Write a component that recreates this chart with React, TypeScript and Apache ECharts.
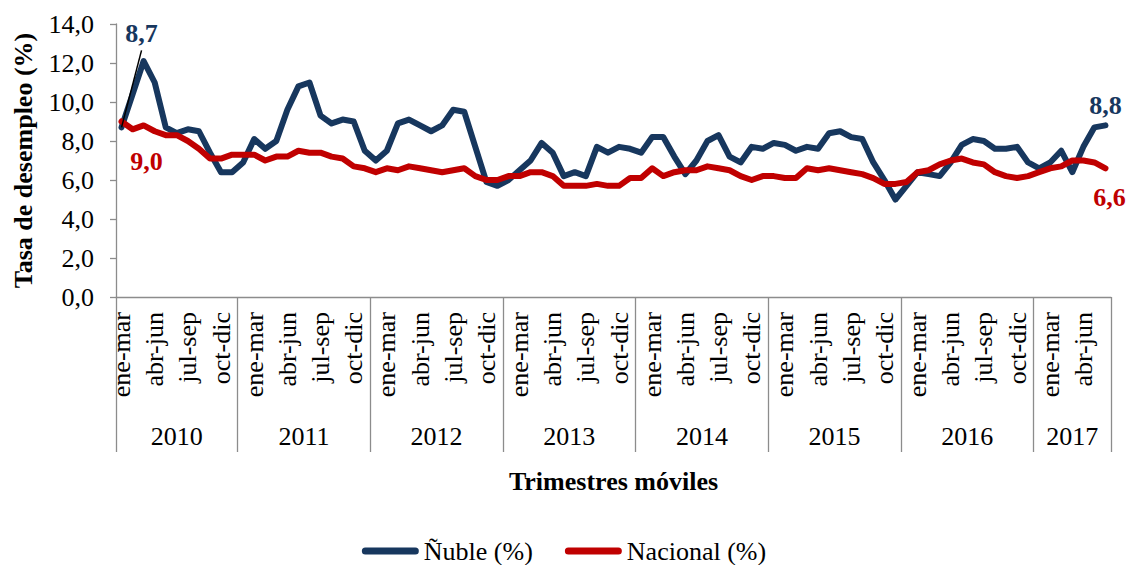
import React, { useEffect, useRef } from 'react';
import * as echarts from 'echarts';

const monthNames = ['dic-feb', 'ene-mar', 'feb-abr', 'mar-may', 'abr-jun', 'may-jul', 'jun-ago', 'jul-sep', 'ago-oct', 'sep-nov', 'oct-dic', 'nov-ene'];
const years = ['2010', '2011', '2012', '2013', '2014', '2015', '2016', '2017'];
const firstMonth = [1, 0, 0, 0, 0, 0, 0, 0];
const lastMonth = [11, 11, 11, 11, 11, 11, 11, 6];
const shownMonthLabels = ['ene-mar', 'abr-jun', 'jul-sep', 'oct-dic'];

const nuble = [
  8.7, 10.4, 12.1, 11.0, 8.7, 8.4, 8.6, 8.5, 7.4, 6.4, 6.4,
  6.9, 8.1, 7.6, 8.0, 9.6, 10.8, 11.0, 9.3, 8.9, 9.1, 9.0, 7.5,
  7.0, 7.5, 8.9, 9.1, 8.8, 8.5, 8.8, 9.6, 9.5, 7.7, 5.9, 5.7,
  6.0, 6.5, 7.0, 7.9, 7.4, 6.2, 6.4, 6.2, 7.7, 7.4, 7.7, 7.6,
  7.4, 8.2, 8.2, 7.2, 6.3, 7.0, 8.0, 8.3, 7.2, 6.9, 7.7, 7.6,
  7.9, 7.8, 7.5, 7.7, 7.6, 8.4, 8.5, 8.2, 8.1, 6.9, 6.0, 5.0,
  5.7, 6.4, 6.3, 6.2, 6.9, 7.8, 8.1, 8.0, 7.6, 7.6, 7.7, 6.9,
  6.6, 6.9, 7.5, 6.4, 7.7, 8.7, 8.8,
];
const nacional = [
  9.0, 8.6, 8.8, 8.5, 8.3, 8.3, 8.0, 7.6, 7.1, 7.1, 7.3,
  7.3, 7.3, 7.0, 7.2, 7.2, 7.5, 7.4, 7.4, 7.2, 7.1, 6.7, 6.6,
  6.4, 6.6, 6.5, 6.7, 6.6, 6.5, 6.4, 6.5, 6.6, 6.2, 6.0, 6.0,
  6.2, 6.2, 6.4, 6.4, 6.2, 5.7, 5.7, 5.7, 5.8, 5.7, 5.7, 6.1,
  6.1, 6.6, 6.2, 6.4, 6.5, 6.5, 6.7, 6.6, 6.5, 6.2, 6.0, 6.2,
  6.2, 6.1, 6.1, 6.6, 6.5, 6.6, 6.5, 6.4, 6.3, 6.1, 5.8, 5.8,
  5.9, 6.4, 6.5, 6.8, 7.0, 7.1, 6.9, 6.8, 6.4, 6.2, 6.1, 6.2,
  6.4, 6.6, 6.7, 7.0, 7.0, 6.9, 6.6,
];

const FONT = 'Liberation Serif';
const BLUE = '#17375E';
const RED = '#C00000';
const AXIS = '#8C8C8C';

const fmt = (v: number) => v.toFixed(1).replace('.', ',');

export default function App() {
  const ref = useRef<HTMLDivElement>(null);

  useEffect(() => {
    document.body.style.margin = '0';
    if (!ref.current) return;
    const chart = echarts.init(ref.current, null, { renderer: 'svg' });

    const categories: string[] = [];
    const catYear: number[] = [];
    years.forEach((_, yi) => {
      for (let m = firstMonth[yi]; m <= lastMonth[yi]; m++) {
        categories.push(monthNames[m]);
        catYear.push(yi);
      }
    });
    const yearStart: number[] = [];
    const yearEnd: number[] = [];
    catYear.forEach((y, i) => {
      if (i === 0 || catYear[i - 1] !== y) yearStart.push(i);
      if (i === catYear.length - 1 || catYear[i + 1] !== y) yearEnd.push(i);
    });
    const boundarySet = new Set(yearStart);
    const last = nuble.length - 1;

    const labelBase = { show: true, position: 'inside', fontSize: 26, fontWeight: 'bold', fontFamily: FONT };

    const nubleData = nuble.map((v, i) => {
      if (i === 0) {
        return { value: v, symbol: 'circle', symbolSize: 2, label: { ...labelBase, color: BLUE, offset: [20, -94], formatter: (p: any) => fmt(p.value) } };
      }
      if (i === last) {
        return { value: v, symbol: 'circle', symbolSize: 2, label: { ...labelBase, color: BLUE, offset: [0, -20], formatter: (p: any) => fmt(p.value) } };
      }
      return v;
    });
    const nacData = nacional.map((v, i) => {
      if (i === 0) {
        return { value: v, symbol: 'circle', symbolSize: 2, label: { ...labelBase, color: RED, offset: [25, 40], formatter: (p: any) => fmt(p.value) } };
      }
      if (i === last) {
        return { value: v, symbol: 'circle', symbolSize: 2, label: { ...labelBase, color: RED, offset: [4, 29], formatter: (p: any) => fmt(p.value) } };
      }
      return v;
    });

    const legendIcon = 'path://M3.5,0L53.5,0A3.5,3.5,0,0,1,53.5,7L3.5,7A3.5,3.5,0,0,1,3.5,0Z';

    chart.setOption({
      animation: false,
      textStyle: { fontFamily: FONT },
      grid: { left: 116, right: 17, top: 24, bottom: 268, containLabel: false },
      xAxis: {
        type: 'category',
        data: categories,
        boundaryGap: true,
        name: 'Trimestres móviles',
        nameLocation: 'middle',
        nameGap: 171,
        nameTextStyle: { fontSize: 26, fontWeight: 'bold', color: '#000', fontFamily: FONT },
        axisLine: { show: true, lineStyle: { color: AXIS, width: 1.3 } },
        axisTick: {
          show: true,
          interval: (i: number) => boundarySet.has(i),
          length: 155,
          lineStyle: { color: AXIS, width: 1.3 },
        },
        axisLabel: {
          interval: (_i: number, v: string) => shownMonthLabels.includes(v),
          rotate: 90,
          margin: 15,
          fontSize: 26,
          color: '#000',
          fontFamily: FONT,
        },
        splitLine: { show: false },
      },
      yAxis: {
        type: 'value',
        min: 0,
        max: 14,
        interval: 2,
        name: 'Tasa de desempleo (%)',
        nameLocation: 'middle',
        nameRotate: 90,
        nameGap: 80,
        nameTextStyle: { fontSize: 26, fontWeight: 'bold', color: '#000', fontFamily: FONT },
        axisLine: { show: true, lineStyle: { color: AXIS, width: 1.3 } },
        axisTick: { show: true, length: 6, lineStyle: { color: AXIS, width: 1.3 } },
        axisLabel: { formatter: (v: number) => fmt(v), fontSize: 26, color: '#000', margin: 22, fontFamily: FONT },
        splitLine: { show: false },
      },
      legend: {
        data: [
          { name: 'Ñuble (%)', icon: legendIcon },
          { name: 'Nacional (%)', icon: legendIcon },
        ],
        left: 'center',
        top: 533,
        itemWidth: 57,
        itemHeight: 7,
        itemGap: 32,
        textStyle: { fontSize: 26, color: '#000', fontFamily: FONT },
      },
      series: [
        {
          name: 'Ñuble (%)',
          type: 'line',
          data: nubleData,
          symbol: 'none',
          showSymbol: true,
          showAllSymbol: true,
          color: BLUE,
          itemStyle: { color: BLUE },
          lineStyle: { color: BLUE, width: 6, cap: 'round', join: 'round' },
          z: 2,
        },
        {
          name: 'Nacional (%)',
          type: 'line',
          data: nacData,
          symbol: 'none',
          showSymbol: true,
          showAllSymbol: true,
          color: RED,
          itemStyle: { color: RED },
          lineStyle: { color: RED, width: 6, cap: 'round', join: 'round' },
          z: 3,
        },
      ],
    });

    const px = (i: number, v: number) => chart.convertToPixel({ xAxisIndex: 0, yAxisIndex: 0 }, [i, v]) as number[];
    const graphics: any[] = years.map((y, yi) => {
      const a = px(yearStart[yi], 0);
      const b = px(yearEnd[yi], 0);
      return {
        type: 'text',
        x: (a[0] + b[0]) / 2,
        y: 436,
        style: { text: y, fontSize: 26, fontFamily: FONT, fill: '#000', textAlign: 'center', textVerticalAlign: 'middle' },
        silent: true,
      };
    });
    const p0 = px(0, nuble[0]);
    graphics.push({
      type: 'line',
      shape: { x1: p0[0] + 20, y1: p0[1] - 77, x2: p0[0], y2: p0[1] },
      style: { stroke: '#000', lineWidth: 1.5 },
      z: 10,
      silent: true,
    });
    chart.setOption({ graphic: graphics });

    return () => chart.dispose();
  }, []);

  return <div ref={ref} style={{ width: 1128, height: 565 }} />;
}
